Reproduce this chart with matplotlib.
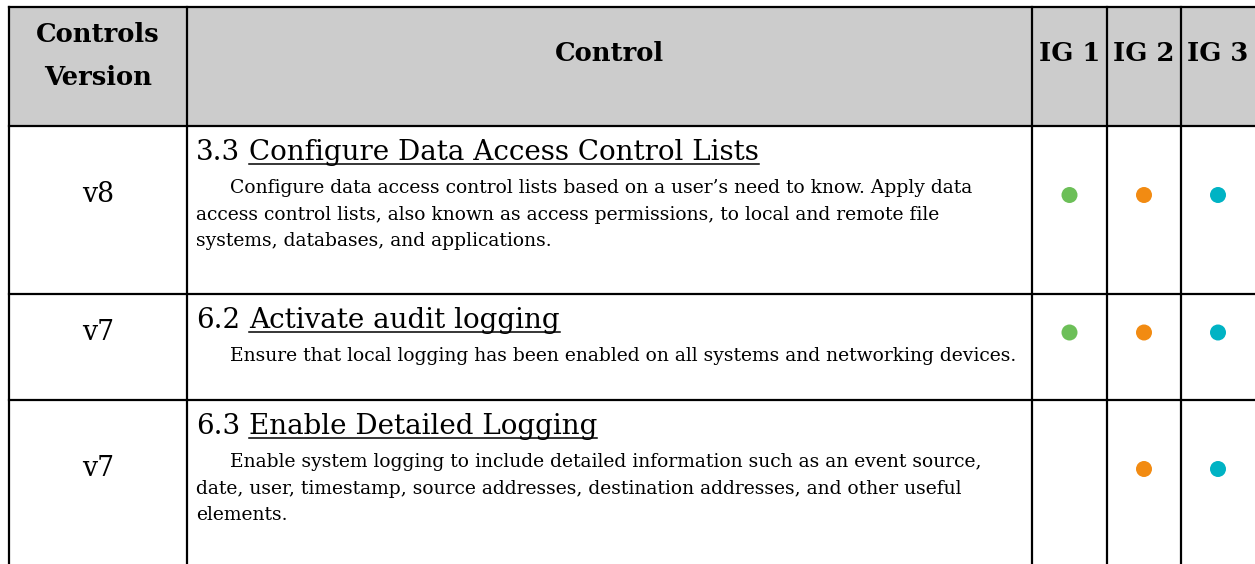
import matplotlib
matplotlib.use("Agg")
import matplotlib.pyplot as plt
from matplotlib.patches import Rectangle, Circle
from matplotlib import font_manager

# ---------------- data ----------------
headers = ["Controls\nVersion", "Control", "IG 1", "IG 2", "IG 3"]
versions = ["v8", "v7", "v7"]
numbers = ["3.3", "6.2", "6.3"]
titles = ["Configure Data Access Control Lists",
          "Activate audit logging",
          "Enable Detailed Logging"]
descriptions = [
    ["Configure data access control lists based on a user\u2019s need to know. Apply data",
     "access control lists, also known as access permissions, to local and remote file",
     "systems, databases, and applications."],
    ["Ensure that local logging has been enabled on all systems and networking devices."],
    ["Enable system logging to include detailed information such as an event source,",
     "date, user, timestamp, source addresses, destination addresses, and other useful",
     "elements."],
]
ig1 = [True, True, False]
ig2 = [True, True, True]
ig3 = [True, True, True]
ig_colors = ["#6cbf58", "#f28b12", "#00b3c4"]

# ---------------- layout ----------------
W, H = 1255, 564
col_x = [9, 187, 1032, 1107, 1181, 1255]
row_y = [7, 126, 294, 400, 570]
header_fill = "#cccccc"
lw = 1.6

avail = {f.name for f in font_manager.fontManager.ttflist}
serif = "DejaVu Serif Condensed" if "DejaVu Serif Condensed" in avail else "DejaVu Serif"

fig = plt.figure(figsize=(W / 100, H / 100), dpi=100)
ax = fig.add_axes([0, 0, 1, 1])
ax.set_xlim(0, W)
ax.set_ylim(H, 0)
ax.axis("off")
fig.canvas.draw()
r = fig.canvas.get_renderer()


def text_w(s, size, **kw):
    t = ax.text(0, 100, s, fontsize=size, family=serif, **kw)
    w = t.get_window_extent(renderer=r).width
    t.remove()
    return w


def fit(s, target, **kw):
    return 20 * target / text_w(s, 20, **kw)


hdr_size = fit("Controls", 124, weight="bold")
title_size = fit(numbers[0] + " " + titles[0], 562)
body_size = fit(descriptions[1][0], 792)
ver_size = fit("v8", 32)

# header background
ax.add_patch(Rectangle((col_x[0], row_y[0]), col_x[-1] - col_x[0] + 5, row_y[1] - row_y[0],
                       facecolor=header_fill, edgecolor="none", zorder=0))
# grid lines
for y in row_y[:-1]:
    ax.plot([col_x[0], W + 5], [y, y], color="black", lw=lw, solid_capstyle="projecting", zorder=3)
for x in col_x[:-1]:
    ax.plot([x, x], [row_y[0], H + 5], color="black", lw=lw, solid_capstyle="projecting", zorder=3)

# header texts
hdr_base = 61
centers = [(col_x[i] + col_x[i + 1]) / 2 for i in range(len(col_x) - 1)]
l1, l2 = headers[0].split("\n")
ax.text(centers[0], 42, l1, ha="center", va="baseline", fontsize=hdr_size, weight="bold", family=serif)
ax.text(centers[0], 85, l2, ha="center", va="baseline", fontsize=hdr_size, weight="bold", family=serif)
for i in range(1, len(headers)):
    ax.text(centers[i], hdr_base, headers[i], ha="center", va="baseline",
            fontsize=hdr_size, weight="bold", family=serif)

# rows
text_x = col_x[1] + 9
indent = 34
line_h = 26.5
gap_w = text_w("a a", title_size) - text_w("aa", title_size)
for i in range(len(titles)):
    top = row_y[i + 1]
    tb = top + 34
    t1 = ax.text(text_x, tb, numbers[i], ha="left", va="baseline", fontsize=title_size, family=serif)
    w1 = t1.get_window_extent(renderer=r).width
    tx = text_x + w1 + gap_w
    t2 = ax.text(tx, tb, titles[i], ha="left", va="baseline", fontsize=title_size, family=serif)
    w2 = t2.get_window_extent(renderer=r).width
    ax.plot([tx, tx + w2], [tb + 4, tb + 4], color="black", lw=1.1, zorder=3)
    last = tb
    for j, line in enumerate(descriptions[i]):
        by = tb + 33 + line_h * j
        ax.text(text_x + (indent if j == 0 else 0), by, line, ha="left", va="baseline",
                fontsize=body_size, family=serif)
        last = by
    cy = (tb - 22 + last) / 2 + (3 if len(descriptions[i]) > 1 else -1)
    ax.text(centers[0], cy, versions[i], ha="center", va="center", fontsize=ver_size, family=serif)
    for k, flags in enumerate([ig1, ig2, ig3]):
        if flags[i]:
            ax.add_patch(Circle((centers[2 + k], cy), 8, facecolor=ig_colors[k],
                                edgecolor="none", zorder=4))

fig.savefig("out.png", dpi=100)
